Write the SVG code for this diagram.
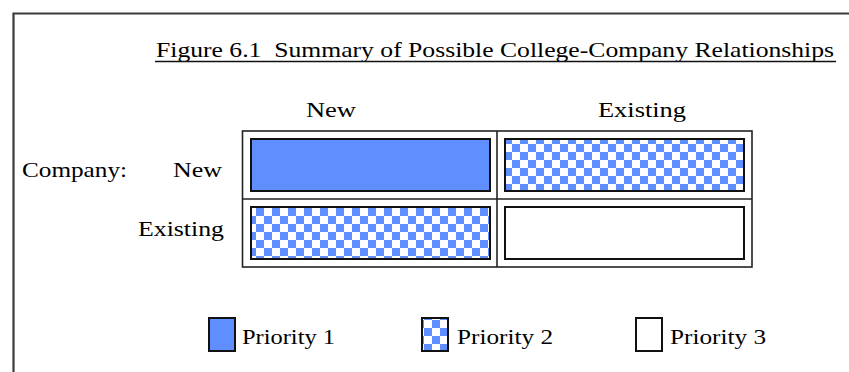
<svg xmlns="http://www.w3.org/2000/svg" width="849" height="372" viewBox="0 0 849 372">
<style>
text{font-family:"Liberation Serif","Times New Roman",serif;font-size:21px;fill:#000}
.cell{stroke:#111;stroke-width:2}
.tbl{fill:none;stroke:#222;stroke-width:1.6}
.solid{fill:#5F8FFF}
.check{fill:url(#chk)}
.empty{fill:#fff}
</style>
<defs>
<pattern id="chk" patternUnits="userSpaceOnUse" width="16" height="16" x="0" y="0">
<rect width="16" height="16" fill="#fff"/>
<rect width="8" height="8" fill="#5F8FFF"/>
<rect x="8" y="8" width="8" height="8" fill="#5F8FFF"/>
</pattern>
</defs>
<rect width="849" height="372" fill="#fff"/>
<path d="M13.5 372 V13.5 H849" fill="none" stroke="#3a3a3a" stroke-width="2.2"/>
<g id="title">
<text x="156" y="57" textLength="678" lengthAdjust="spacingAndGlyphs" xml:space="preserve">Figure 6.1  Summary of Possible College-Company Relationships</text>
<line x1="155" y1="61.5" x2="836" y2="61.5" stroke="#111" stroke-width="1.3"/>
</g>
<g id="headers">
<text x="306" y="117" textLength="50" lengthAdjust="spacingAndGlyphs">New</text>
<text x="598" y="117" textLength="88" lengthAdjust="spacingAndGlyphs">Existing</text>
<text x="22" y="177" textLength="105" lengthAdjust="spacingAndGlyphs">Company:</text>
<text x="173" y="177" textLength="49" lengthAdjust="spacingAndGlyphs">New</text>
<text x="138" y="236" textLength="86" lengthAdjust="spacingAndGlyphs">Existing</text>
</g>
<g id="table">
<rect class="tbl" x="242.5" y="131" width="509.5" height="136"/>
<line class="tbl" x1="497" y1="131" x2="497" y2="267"/>
<line class="tbl" x1="242.5" y1="199" x2="752" y2="199"/>
</g>
<g id="cell-new-new"><rect class="cell solid" x="251" y="139" width="239" height="52"/></g>
<g id="cell-new-existing"><rect class="cell check" x="505" y="139" width="239" height="52"/></g>
<g id="cell-existing-new"><rect class="cell check" x="251" y="207" width="239" height="52"/></g>
<g id="cell-existing-existing"><rect class="cell empty" x="505" y="207" width="239" height="52"/></g>
<g id="legend1">
<rect class="cell solid" x="209" y="318" width="26" height="33"/>
<text x="242" y="344" textLength="93" lengthAdjust="spacingAndGlyphs">Priority 1</text>
</g>
<g id="legend2">
<rect class="cell check" x="422" y="318" width="26" height="33"/>
<text x="457" y="344" textLength="96" lengthAdjust="spacingAndGlyphs">Priority 2</text>
</g>
<g id="legend3">
<rect class="cell empty" x="636" y="318" width="26" height="33"/>
<text x="670" y="344" textLength="96" lengthAdjust="spacingAndGlyphs">Priority 3</text>
</g>
</svg>
